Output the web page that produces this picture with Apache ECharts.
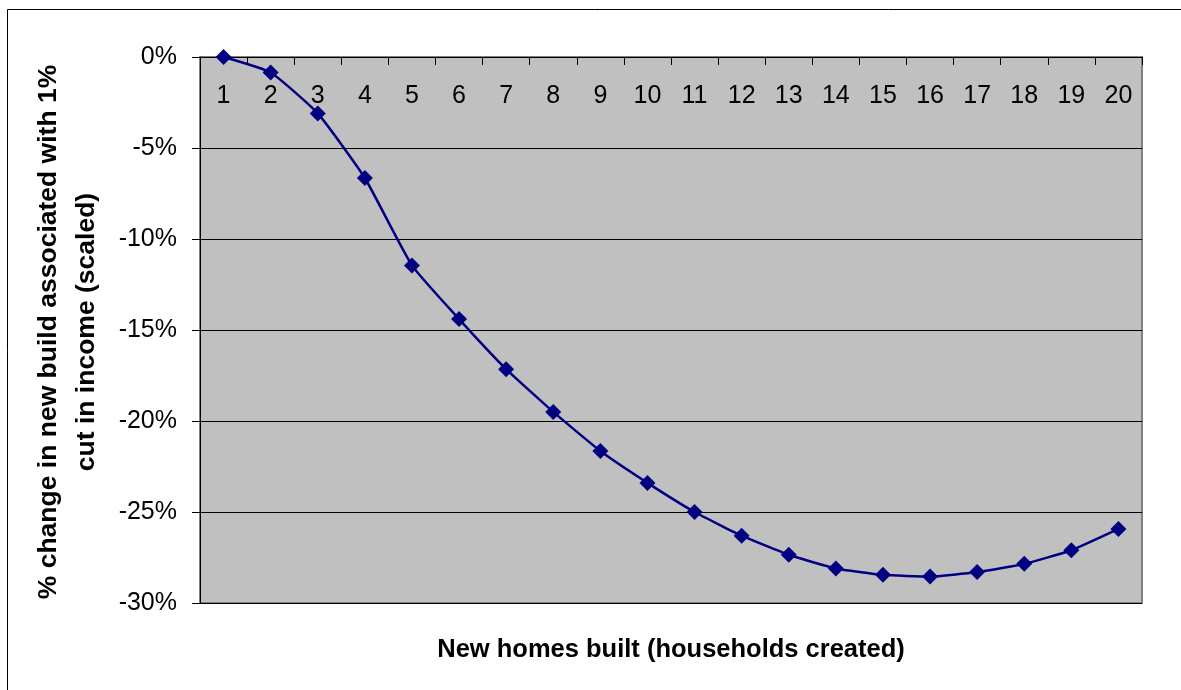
<!DOCTYPE html>
<html>
<head>
<meta charset="utf-8">
<script src="https://cdn.jsdelivr.net/npm/echarts@6/dist/echarts.min.js"></script>
<style>
html,body{margin:0;padding:0;background:#fff;}
#chart{width:1181px;height:690px;}
</style>
</head>
<body>
<div id="chart"></div>
<script>
var categories = ['1','2','3','4','5','6','7','8','9','10','11','12','13','14','15','16','17','18','19','20'];
var changePct = [0, -0.85, -3.1, -6.65, -11.45, -14.4, -17.15, -19.5, -21.65, -23.4, -25.0, -26.3, -27.35, -28.1, -28.45, -28.55, -28.3, -27.85, -27.1, -25.93];
var yTitle = '% change in new build associated with 1%\ncut in income (scaled)';
var xTitle = 'New homes built (households created)';

var chart = echarts.init(document.getElementById('chart'), null, {renderer: 'canvas'});
var FONT = '"Liberation Sans", Arial, sans-serif';
var gridL = 200, gridT = 57, gridR = 39, gridB = 87;

chart.setOption({
  animation: false,
  backgroundColor: '#ffffff',
  grid: {
    left: gridL, top: gridT, right: gridR, bottom: gridB,
    show: true, backgroundColor: '#C0C0C0', borderColor: '#808080', borderWidth: 2
  },
  xAxis: {
    type: 'category',
    data: categories,
    position: 'top',
    boundaryGap: true,
    axisLine: {show: true, onZero: false, lineStyle: {color: '#000', width: 1}},
    axisTick: {show: true, inside: true, length: 8, alignWithLabel: false, lineStyle: {color: '#000'}},
    axisLabel: {inside: true, margin: 27, color: '#000', fontSize: 25, fontFamily: FONT},
    splitLine: {show: false}
  },
  yAxis: {
    type: 'value',
    min: -30, max: 0, interval: 5,
    axisLine: {show: true, lineStyle: {color: '#000', width: 1}},
    axisTick: {show: true, length: 8, lineStyle: {color: '#000'}},
    axisLabel: {margin: 23, color: '#000', fontSize: 25, fontFamily: FONT, formatter: '{value}%'},
    splitLine: {show: true, lineStyle: {color: '#000', width: 1}}
  },
  series: [{
    type: 'line',
    data: changePct,
    smooth: 0.15,
    symbol: 'diamond',
    symbolSize: 16,
    lineStyle: {color: '#000080', width: 2.5},
    itemStyle: {color: '#000080'},
    z: 5
  }],
  graphic: [
    {type: 'rect', shape: {x: 7.5, y: 9.5, width: 1200, height: 700}, style: {fill: 'none', stroke: '#000', lineWidth: 1}, silent: true, z: 0},
    {type: 'text', x: 68, y: 332, rotation: Math.PI / 2,
      style: {text: yTitle, fill: '#000', font: 'bold 26.5px ' + FONT, textAlign: 'center', textVerticalAlign: 'middle', lineHeight: 38}},
    {type: 'text', x: 671, y: 650,
      style: {text: xTitle, fill: '#000', font: 'bold 25.5px ' + FONT, textAlign: 'center', textVerticalAlign: 'middle'}}
  ]
});
</script>
</body>
</html>
